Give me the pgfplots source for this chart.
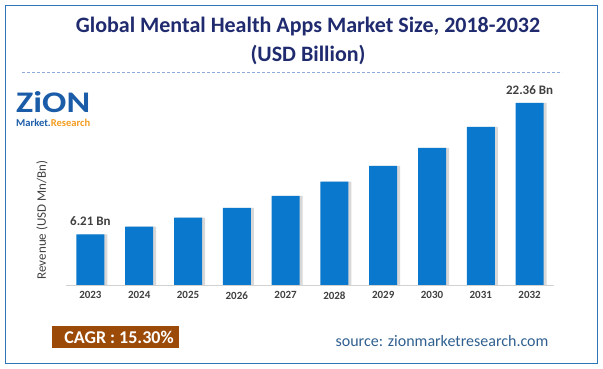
\documentclass[border=0pt]{standalone}
\usepackage{pgfplots}
\pgfplotsset{compat=1.18}
\usepackage{graphicx}
\usepackage{fontspec}
\setmainfont{Carlito}
\definecolor{titleblue}{HTML}{1F2B6E}
\definecolor{barblue}{HTML}{0A78CC}
\definecolor{framebl}{HTML}{2E75B6}
\definecolor{dashbl}{HTML}{8EAADB}
\definecolor{txtgray}{HTML}{404040}
\definecolor{cagrbg}{HTML}{9C4A08}
\definecolor{srcblue}{HTML}{2F5F8F}
\definecolor{logoblue}{HTML}{1A5CA8}
\definecolor{logoorange}{HTML}{F39C1F}
\pgfplotstableread{
x val
0 6.21
1 7.16
2 8.27
3 9.46
4 10.94
5 12.70
6 14.62
7 16.84
8 19.42
9 22.36
}\datatable
\begin{document}
\begin{tikzpicture}[x=1pt,y=1pt]
\useasboundingbox (0,0) rectangle (603,369);
% frame
\draw[framebl,line width=1.2pt] (5.5,5.5) rectangle (597.5,363.5);
% title
\node[anchor=base,text=titleblue,font=\fontsize{22}{24}\selectfont\bfseries] at (308,369-32.7) {Global Mental Health Apps Market Size, 2018-2032};
\node[anchor=base,text=titleblue,font=\fontsize{22}{24}\selectfont\bfseries] at (308,369-61.7) {(USD Billion)};
\draw[dashbl,line width=0.8pt,dash pattern=on 3pt off 2pt] (22,369-72.5) -- (562,369-72.5);
% logo (one node)
\node[anchor=north west,inner sep=0pt,font=\bfseries,align=left] at (16,369-91) {%
  \textcolor{logoblue}{\resizebox{74pt}{21pt}{ZiON}}\\[2pt]%
  \resizebox{74pt}{!}{\textcolor{logoblue}{Market.}\textcolor{logoorange}{Research}}};
% y label
\node[rotate=90,text=txtgray,font=\fontsize{13}{14}\selectfont] at (42,369-220) {Revenue (USD Mn/Bn)};
\begin{axis}[
  at={(66pt,84pt)}, anchor=south west,
  scale only axis, width=488pt, height=203.5pt,
  xmin=-0.5, xmax=9.5, ymin=0, ymax=25,
  axis x line=bottom, axis y line=none,
  x axis line style={draw=black!18,line width=0.8pt,-},
  xtick={0,...,9},
  xticklabels={2023,2024,2025,2026,2027,2028,2029,2030,2031,2032},
  x tick label style={font=\fontsize{11}{13}\selectfont\bfseries,text=txtgray,yshift=-3pt},
  major tick length=0pt,
  ytick=\empty,
  clip=false,
]
\addplot[ybar,bar width=28pt,bar shift=3pt,fill=black!22,draw=none,opacity=0.7] table[x=x,y=val]{\datatable};
\addplot[ybar,bar width=28pt,bar shift=0pt,fill=barblue,draw=none] table[x=x,y=val]{\datatable};
\node[anchor=base,font=\fontsize{13}{15}\selectfont\bfseries,text=txtgray] at (axis cs:0,6.21) [yshift=8.5pt] {6.21 Bn};
\node[anchor=base,font=\fontsize{13}{15}\selectfont\bfseries,text=txtgray] at (axis cs:9,22.36) [yshift=8.5pt] {22.36 Bn};
\end{axis}
% CAGR box
\fill[cagrbg] (52,369-348) rectangle (179,369-326);
\node[text=white,font=\fontsize{18}{20}\selectfont\bfseries] at (119,369-337.5) {CAGR : 15.30\%};
% source
\node[text=srcblue,font=\fontsize{16}{18}\selectfont] at (442,369-341) {source: zionmarketresearch.com};
\end{tikzpicture}
\end{document}
